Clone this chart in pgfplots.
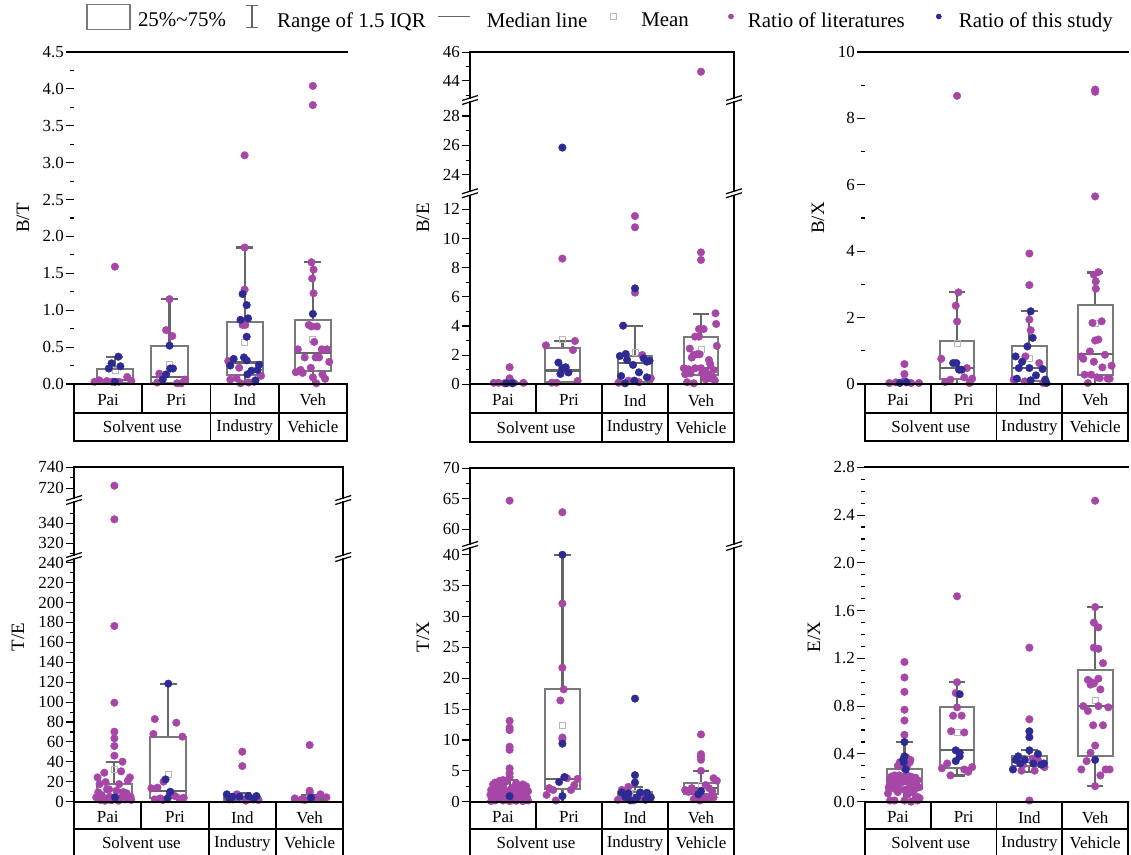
\documentclass[border=0pt]{standalone}
\usepackage{fontspec}
\setmainfont{Liberation Serif}
\usepackage{pgfplots}
\pgfplotsset{compat=1.18}
\usepackage{pgfplotstable}
\usepgfplotslibrary{statistics}

\definecolor{litc}{HTML}{A646A6}
\definecolor{stuc}{HTML}{2E2A94}
\definecolor{boxgray}{HTML}{7A7A7A}
\definecolor{whgray}{HTML}{666666}
\definecolor{meangray}{HTML}{B8B8B8}

% ---------------- B/T ----------------
\pgfplotstableread{
x y
-0.13 0.05
-0.02 0.04
0.10 1.59
0.28 0.095
0.34 0.04
0.16 0.03
0.06 0.03
-0.20 0.03
0.90 1.15
0.85 0.73
0.94 0.65
0.75 0.14
1.13 0.06
0.72 0.02
1.01 0.01
1.07 0.01
2.00 3.10
2.00 1.85
2.00 1.28
1.97 0.80
2.01 0.80
1.76 0.31
1.92 0.22
1.79 0.06
1.88 0.08
2.24 0.11
2.06 0.02
1.94 0.01
2.14 0.03
3.00 4.04
3.00 3.78
2.98 1.65
3.01 1.55
2.99 1.43
3.01 1.23
2.94 0.80
2.98 0.78
3.06 0.78
3.02 0.57
2.78 0.47
3.21 0.47
3.13 0.47
2.88 0.36
3.04 0.36
3.09 0.36
3.24 0.30
2.75 0.16
2.82 0.19
2.85 0.15
2.97 0.22
3.14 0.13
3.18 0.07
3.00 0.09
3.05 0.01
}\BTlit
\pgfplotstableread{
x y
0.05 0.28
0.15 0.37
0.01 0.21
0.18 0.24
0.10 0.03
0.90 0.52
0.91 0.21
0.95 0.21
0.85 0.13
0.80 0.06
1.97 1.22
2.03 1.07
1.94 0.87
2.05 0.89
2.03 0.64
1.99 0.36
1.84 0.34
2.03 0.32
1.79 0.25
2.21 0.26
2.19 0.19
2.10 0.18
2.04 0.13
2.16 0.05
3.00 0.95
}\BTstu

% ---------------- B/E ----------------
\pgfplotstableread{
x y
0.10 1.17
0.10 0.41
-0.14 0.10
-0.07 0.10
0.16 0.10
0.31 0.10
0.02 0.07
0.90 8.62
0.65 2.67
1.09 2.97
1.06 2.35
1.13 0.23
0.74 0.11
0.81 0.11
0.99 0.82
2.00 11.54
2.00 10.77
2.00 6.29
2.11 2.01
2.24 0.41
1.90 0.25
1.75 0.11
2.06 0.14
3.00 44.64
3.00 9.05
3.00 8.53
3.22 4.87
3.23 4.14
2.97 3.79
3.04 3.79
2.91 3.27
2.97 3.27
3.24 2.63
2.83 2.45
2.89 2.01
2.94 2.06
2.98 2.06
2.86 1.83
3.12 1.67
3.14 1.39
2.74 1.10
2.81 1.03
2.91 1.10
3.00 1.10
3.07 0.91
3.19 0.98
2.76 0.69
2.84 0.75
3.02 0.75
3.12 0.64
3.18 0.46
3.21 0.25
2.79 0.14
2.89 0.07
3.07 0.34
3.14 0.41
}\BElit
\pgfplotstableread{
x y
0.05 0.07
0.14 0.07
0.90 25.85
0.84 1.49
0.90 1.10
0.95 1.17
0.87 0.71
0.99 0.82
2.00 6.58
1.82 4.02
1.86 2.08
1.77 1.94
1.88 1.67
1.97 1.33
2.13 1.78
2.18 1.55
2.22 1.62
2.06 0.82
1.79 0.57
2.18 0.48
1.99 0.25
1.85 0.07
}\BEstu

% ---------------- B/X ----------------
\pgfplotstableread{
x y
0.10 0.60
0.10 0.30
0.10 0.10
-0.13 0.03
-0.03 0.05
0.20 0.03
0.32 0.03
0.90 8.68
0.92 2.76
0.88 2.36
0.90 1.88
0.66 0.76
1.05 0.48
0.80 0.13
1.01 0.20
1.13 0.16
0.72 0.06
1.09 0.03
2.00 3.93
2.00 2.98
2.00 1.94
2.02 1.62
1.94 0.83
2.15 0.63
1.76 0.13
1.93 0.08
2.21 0.03
3.00 8.87
3.00 8.80
3.00 5.65
3.05 3.37
2.98 3.29
3.01 3.09
3.01 2.87
2.96 1.84
3.10 1.89
3.00 1.31
3.05 1.34
2.92 0.98
2.79 0.83
2.82 0.76
3.15 0.88
2.98 0.67
3.25 0.55
3.11 0.50
2.84 0.28
2.94 0.28
3.03 0.20
3.07 0.18
3.19 0.16
3.22 0.16
2.89 0.03
}\BXlit
\pgfplotstableread{
x y
0.03 0.03
0.13 0.05
0.84 0.63
0.89 0.63
0.93 0.43
0.97 0.43
2.02 2.19
2.05 1.39
1.97 1.13
1.79 0.83
1.89 0.67
1.84 0.48
2.00 0.48
2.20 0.45
2.10 0.26
1.81 0.16
2.02 0.11
2.24 0.13
2.26 0.03
}\BXstu

% ---------------- T/E ----------------
\pgfplotstableread{
x y
0.10 722.5
0.10 344
0.10 176.4
0.10 99.4
0.10 70.3
0.10 63.6
0.10 55.9
0.10 46.2
0.22 40.2
0.20 30.5
-0.05 29.1
-0.15 24.4
0.33 24.4
-0.03 19.7
0.30 21.1
-0.12 17.7
0.17 17.7
-0.01 12.4
0.02 12.4
-0.14 9.4
0.13 11.0
0.23 9.7
0.28 8.4
-0.09 6.7
-0.17 4.4
0.03 5.0
0.21 5.0
0.34 5.0
-0.11 1.7
0.08 2.3
0.26 2.3
0.35 1.7
-0.04 1.0
0.16 1.0
-0.07 3.0
0.12 3.5
0.30 3.0
0.05 1.5
0.70 83.0
1.02 79.3
0.68 68.0
1.11 65.3
0.65 13.4
0.74 14.1
0.83 20.1
0.92 7.4
0.78 3.3
1.00 5.7
1.06 3.3
1.13 4.0
0.70 2.3
0.82 1.7
2.00 50.2
2.00 35.8
1.92 7.4
2.11 4.4
1.86 2.3
2.24 1.7
2.05 1.0
3.00 56.9
3.00 11.0
3.00 9.0
3.16 7.4
3.25 4.4
2.78 3.3
2.88 2.3
3.10 3.3
2.93 1.7
}\TElit
\pgfplotstableread{
x y
0.11 4.4
0.90 118.5
0.86 22.4
0.93 10.0
0.89 3.3
1.77 7.4
1.85 5.0
1.96 5.0
2.09 5.7
2.21 5.7
1.81 2.3
2.17 2.3
3.02 4.0
}\TEstu

% ---------------- T/X ----------------
\pgfplotstableread{
x y
0.10 64.7
0.10 13.1
0.10 12.0
0.10 11.6
0.10 8.9
0.10 8.4
0.10 5.4
0.10 4.6
0.10 4.0
-0.12 3.1
-0.05 3.4
0.00 3.5
0.05 3.3
-0.15 2.8
0.20 3.0
0.30 2.8
0.35 2.5
0.25 2.2
-0.10 2.4
0.00 2.6
0.15 2.3
-0.18 1.9
-0.08 2.0
0.05 1.8
0.12 2.0
0.30 1.9
0.38 1.7
-0.15 1.5
-0.02 1.4
0.08 1.3
0.22 1.5
0.32 1.3
-0.19 1.1
-0.10 1.0
0.18 1.0
0.28 0.9
0.36 0.8
-0.16 0.6
-0.05 0.5
0.05 0.6
0.15 0.4
0.25 0.5
0.33 0.3
-0.12 0.2
0.00 0.2
0.10 0.1
0.20 0.15
0.30 0.1
-0.18 0.1
0.38 0.2
0.90 62.8
0.90 32.1
0.90 21.7
0.92 18.2
0.87 16.4
0.90 10.4
0.90 10.1
0.66 1.1
0.70 2.2
0.76 1.9
1.03 1.9
1.08 2.7
1.13 3.7
0.80 0.2
0.97 3.8
1.90 2.4
1.80 1.9
2.08 1.1
2.23 0.5
1.85 0.4
1.74 0.3
2.13 0.7
1.98 0.2
3.00 10.9
3.00 7.7
3.00 7.3
3.00 6.8
3.00 5.0
3.19 3.8
3.24 3.4
2.76 1.9
2.81 1.6
2.91 1.5
2.86 2.2
3.12 2.2
3.17 1.7
3.07 2.7
2.94 1.1
3.04 0.8
3.12 0.5
2.89 0.4
2.98 0.2
3.19 0.7
}\TXlit
\pgfplotstableread{
x y
0.10 0.9
0.90 40.0
0.90 9.4
0.85 3.2
0.93 4.0
0.90 0.9
2.00 16.7
2.00 4.3
2.00 3.1
1.80 1.5
1.90 1.35
2.08 1.5
2.18 1.45
1.85 0.8
2.03 0.7
2.16 0.3
1.93 0.2
2.24 0.7
3.00 1.7
2.96 1.2
}\TXstu

% ---------------- E/X ----------------
\pgfplotstableread{
x y
0.10 1.17
0.10 1.04
0.10 0.92
0.10 0.77
0.10 0.68
0.10 0.56
0.13 0.37
0.19 0.35
0.03 0.33
0.07 0.31
0.14 0.30
0.18 0.33
0.00 0.30
0.10 0.28
-0.10 0.21
-0.05 0.22
0.02 0.22
0.08 0.21
0.14 0.22
0.20 0.21
0.27 0.20
0.30 0.18
-0.12 0.18
-0.03 0.17
0.05 0.16
0.12 0.17
0.22 0.15
0.28 0.14
-0.08 0.14
0.00 0.13
-0.14 0.12
-0.06 0.11
0.10 0.10
0.18 0.12
0.25 0.10
0.32 0.12
-0.15 0.07
0.00 0.08
0.15 0.06
0.22 0.08
0.30 0.04
0.27 0.03
0.33 0.03
-0.12 0.01
-0.05 0.01
0.10 0.01
0.20 0.00
0.30 0.01
0.90 1.72
0.90 1.00
0.88 0.91
0.90 0.79
0.84 0.72
0.97 0.72
0.81 0.59
1.01 0.58
0.75 0.32
0.67 0.28
0.80 0.22
1.13 0.29
1.01 0.27
1.07 0.25
2.00 1.29
2.00 0.69
2.00 0.01
1.88 0.26
2.08 0.26
2.23 0.29
2.05 0.36
1.90 0.31
2.13 0.35
3.00 2.52
3.00 1.63
2.98 1.50
3.05 1.46
2.98 1.29
3.05 1.28
3.12 1.16
2.89 1.02
3.05 1.03
2.94 1.00
2.98 0.99
2.93 0.98
3.08 0.94
2.82 0.80
3.05 0.80
3.20 0.79
2.89 0.76
2.97 0.64
3.12 0.64
3.00 0.47
2.93 0.41
2.87 0.34
2.79 0.27
3.08 0.22
3.16 0.27
3.22 0.27
3.00 0.13
}\EXlit
\pgfplotstableread{
x y
0.10 0.50
0.10 0.38
0.09 0.33
0.12 0.27
0.08 0.35
0.94 0.90
0.88 0.43
0.94 0.41
0.94 0.38
0.88 0.34
2.00 0.59
2.00 0.54
2.00 0.43
2.13 0.40
1.83 0.38
1.79 0.35
1.75 0.27
1.93 0.35
2.18 0.31
2.22 0.32
1.86 0.32
2.06 0.32
3.00 0.35
}\EXstu

\newcommand{\fs}{\fontsize{17}{20}\selectfont}

\pgfplotsset{
  seg/.style={scale only axis, anchor=south west, axis line style={draw=none},
    xmin=-0.5, xmax=3.5, xtick=\empty, ytick pos=left, tick align=outside,
    clip=false, major tick length=8bp, minor tick length=4bp,
    tick style={black, line width=1.1bp},
    yticklabel style={font=\fs, inner sep=2bp},
    /pgf/number format/assume math mode=true},
  bottomseg/.style={xtick={0,1,2,3}, xticklabels={Pai,Pri,Ind,Veh},
    xtick style={draw=none},
    xticklabel style={font=\fs, yshift=1.5bp}},
  onedec/.style={yticklabel style={/pgf/number format/.cd, fixed, fixed zerofill, precision=1}},
  lit/.style={only marks, mark=*, mark size=3.8bp, mark options={draw=litc, fill=litc}},
  stu/.style={only marks, mark=*, mark size=3.8bp, mark options={draw=stuc, fill=stuc}},
  bx/.style={draw=boxgray, line width=2bp, solid},
  boxplot/every box/.style={draw=boxgray, line width=2bp, solid},
  boxplot/every median/.style={draw=whgray, line width=2.2bp, solid},
  boxplot/every whisker/.style={draw=whgray, line width=2.2bp, solid},
  mn/.style={only marks, mark=square, mark size=3bp, mark options={draw=meangray, line width=0.8bp}},
}

\newcommand{\bp}[6]{\addplot[bx, boxplot prepared={draw direction=y, draw position=#1, lower whisker=#2, lower quartile=#3, median=#4, upper quartile=#5, upper whisker=#6, box extend=0.53, whisker extend=0.25}] coordinates {};}

\tikzset{axl/.style={black, line width=1.8bp, line cap=rect},
         brkl/.style={black, line width=1.2bp}}
\newcommand{\brk}[2]{\draw[brkl] ({#1-8},{#2-4.5}) -- ({#1+8},{#2+0.5}); \draw[brkl] ({#1-8},{#2-0.5}) -- ({#1+8},{#2+4.5});}
\newcommand{\cattab}[4]{%
  \pgfmathsetmacro{\W}{(#2-#1)/4}%
  \draw[axl] (#1,#3) -- (#2,#3);
  \draw[axl] (#1,{#3-#4}) -- (#2,{#3-#4});
  \draw[axl] (#1,{#3-2*#4}) -- (#2,{#3-2*#4});
  \draw[axl] (#1,#3) -- (#1,{#3-2*#4});
  \draw[axl] (#2,#3) -- (#2,{#3-2*#4});
  \draw[axl] ({#1+\W},#3) -- ({#1+\W},{#3-#4});
  \draw[axl] ({#1+2*\W},#3) -- ({#1+2*\W},{#3-2*#4});
  \draw[axl] ({#1+3*\W},#3) -- ({#1+3*\W},{#3-2*#4});
  \node[font=\fs] at ({#1+\W},{#3-1.5*#4}) {Solvent use};
  \node[font=\fs] at ({#1+2.5*\W},{#3-1.5*#4}) {Industry};
  \node[font=\fs] at ({#1+3.5*\W},{#3-1.5*#4}) {Vehicle};
}

\begin{document}
\begin{tikzpicture}
\useasboundingbox (0bp,0bp) rectangle (1131bp,855bp);

% ===== Panel B/T =====
\begin{axis}[seg, bottomseg, onedec, at={(74bp,471bp)}, width=273bp, height=332bp,
  ymin=0, ymax=4.5, ytick={0,0.5,1,1.5,2,2.5,3,3.5,4,4.5}, minor y tick num=1]
\bp{0.1}{0}{0.02}{0.05}{0.21}{0.37}
\bp{0.9}{0}{0.01}{0.10}{0.52}{1.15}
\bp{2}{0}{0.12}{0.29}{0.84}{1.85}
\bp{3}{0}{0.18}{0.42}{0.87}{1.65}
\addplot[mn] coordinates {(0.1,0.18) (0.9,0.26) (2,0.56) (3,0.60)};
\addplot[lit] table {\BTlit};
\addplot[stu] table {\BTstu};
\end{axis}

% ===== Panel B/E =====
\begin{axis}[seg, bottomseg, at={(470bp,470.7bp)}, width=264bp, height=188.8bp,
  ymin=0, ymax=12.95, ytick={0,2,4,6,8,10,12}, minor y tick num=1, restrict y to domain=0:12.95]
\bp{0.1}{0}{0.03}{0.07}{0.12}{0.16}
\bp{0.9}{0}{0.14}{0.94}{2.51}{2.97}
\bp{2}{0}{0.18}{1.44}{1.97}{4.02}
\bp{3}{0}{0.64}{1.10}{3.27}{4.82}
\addplot[mn] coordinates {(0.1,0.14) (0.9,3.1) (2,2.19) (3,2.4)};
\addplot[lit] table {\BElit};
\addplot[stu] table {\BEstu};
\end{axis}
\begin{axis}[seg, at={(470bp,664bp)}, width=264bp, height=89bp,
  ymin=22.9, ymax=28.95, ytick={24,26,28}, minor y tick num=1, restrict y to domain=22.9:28.95]
\addplot[lit] table {\BElit};
\addplot[stu] table {\BEstu};
\end{axis}
\begin{axis}[seg, at={(470bp,757bp)}, width=264bp, height=45.7bp,
  ymin=42.8, ymax=46, ytick={44,46}, minor ytick={43,45}, restrict y to domain=42.8:46]
\addplot[lit] table {\BElit};
\addplot[stu] table {\BEstu};
\end{axis}

% ===== Panel B/X =====
\begin{axis}[seg, bottomseg, at={(865bp,471bp)}, width=263bp, height=332bp,
  ymin=0, ymax=10, ytick={0,2,4,6,8,10}, minor y tick num=1]
\bp{0.1}{0}{0.01}{0.02}{0.04}{0.07}
\bp{0.9}{0}{0.16}{0.47}{1.31}{2.76}
\bp{2}{0}{0.08}{0.47}{1.13}{2.19}
\bp{3}{0}{0.28}{0.90}{2.38}{3.36}
\addplot[mn] coordinates {(0.1,0.08) (0.9,1.21) (2,0.76) (3,1.82)};
\addplot[lit] table {\BXlit};
\addplot[stu] table {\BXstu};
\end{axis}

% ===== Panel T/E =====
\begin{axis}[seg, bottomseg, at={(74bp,53.3bp)}, width=269.3bp, height=242.7bp,
  ymin=0, ymax=243.7, ytick={0,20,...,240}, minor y tick num=1, restrict y to domain=0:243.7]
\bp{0.1}{0}{2.3}{6.0}{17.7}{40.2}
\bp{0.9}{0}{3.3}{11.0}{65.3}{118.5}
\bp{2}{0.5}{1.7}{3.3}{5.0}{8.4}
\bp{3}{0.5}{1.7}{2.3}{4.0}{6.7}
\addplot[mn] coordinates {(0.1,32.5) (0.9,27.4) (2,4.5) (3,4.5)};
\addplot[lit] table {\TElit};
\addplot[stu] table {\TEstu};
\end{axis}
\begin{axis}[seg, at={(74bp,300bp)}, width=269.3bp, height=53bp,
  ymin=308.3, ymax=361.3, ytick={320,340}, minor ytick={310,330,350}, restrict y to domain=308.3:361.3]
\addplot[lit] table {\TElit};
\addplot[stu] table {\TEstu};
\end{axis}
\begin{axis}[seg, at={(74bp,357bp)}, width=269.3bp, height=30.7bp,
  ymin=710.8, ymax=740, ytick={720,740}, minor ytick={730}, restrict y to domain=710.8:740]
\addplot[lit] table {\TElit};
\addplot[stu] table {\TEstu};
\end{axis}

% ===== Panel T/X =====
\begin{axis}[seg, bottomseg, at={(470bp,53.3bp)}, width=264bp, height=253.7bp,
  ymin=0, ymax=41.1, ytick={0,5,...,40}, minor y tick num=1, restrict y to domain=0:41.1]
\bp{0.1}{0}{0.5}{0.9}{2.2}{3.5}
\bp{0.9}{0}{2.0}{3.7}{18.2}{40.0}
\bp{2}{0.1}{0.9}{1.15}{1.5}{2.4}
\bp{3}{0.2}{1.3}{2.2}{3.0}{5.0}
\addplot[mn] coordinates {(0.1,1.9) (0.9,12.4) (2,1.4) (3,2.6)};
\addplot[lit] table {\TXlit};
\addplot[stu] table {\TXstu};
\end{axis}
\begin{axis}[seg, at={(470bp,311bp)}, width=264bp, height=75.7bp,
  ymin=57.6, ymax=70, ytick={60,65,70}, minor y tick num=1, restrict y to domain=57.6:70]
\addplot[lit] table {\TXlit};
\addplot[stu] table {\TXstu};
\end{axis}

% ===== Panel E/X =====
\begin{axis}[seg, bottomseg, onedec, at={(865bp,53.3bp)}, width=263bp, height=334.4bp,
  ymin=0, ymax=2.8, ytick={0,0.4,0.8,1.2,1.6,2.0,2.4,2.8}, minor y tick num=3]
\bp{0.1}{0}{0.11}{0.18}{0.27}{0.50}
\bp{0.9}{0.22}{0.285}{0.43}{0.79}{1.00}
\bp{2}{0.25}{0.30}{0.33}{0.38}{0.43}
\bp{3}{0.13}{0.38}{0.80}{1.10}{1.63}
\addplot[mn] coordinates {(0.1,0.20) (0.9,0.58) (2,0.36) (3,0.85)};
\addplot[lit] table {\EXlit};
\addplot[stu] table {\EXstu};
\end{axis}

% ===== Legend =====
\begin{axis}[at={(0bp,0bp)}, anchor=south west, scale only axis, width=1131bp, height=855bp,
  xmin=0, xmax=1, ymin=0, ymax=1, hide axis,
  legend columns=6, legend cell align=left,
  legend style={at={(0.5300,0.9801)}, anchor=center, draw=none, fill=none,
    font=\fontsize{21}{24}\selectfont, inner sep=0pt,
    /tikz/every node/.append style={inner sep=0pt}}]
\addlegendimage{legend image code/.code={\path[draw=none,fill=none] (0bp,0bp) -- (52bp,0bp); \draw[boxgray, line width=1.5bp] (0.75bp,-9bp) rectangle (44bp,16bp);}}
\addlegendentry{25\%\textasciitilde 75\%}
\addlegendimage{legend image code/.code={\path[draw=none,fill=none] (0bp,0bp) -- (51bp,0bp); \draw[whgray, line width=1.5bp] (26bp,-7bp) -- (26bp,15bp) (20bp,15bp) -- (32bp,15bp) (20bp,-7bp) -- (32bp,-7bp);}}
\addlegendentry{Range of 1.5 IQR}
\addlegendimage{legend image code/.code={\path[draw=none,fill=none] (0bp,0bp) -- (61bp,0bp); \draw[whgray, line width=1.5bp] (12bp,4bp) -- (44bp,4bp);}}
\addlegendentry{Median line}
\addlegendimage{legend image code/.code={\path[draw=none,fill=none] (0bp,0bp) -- (54bp,0bp); \draw[meangray, line width=0.8bp] (23bp,1bp) rectangle (29bp,7bp);}}
\addlegendentry{Mean}
\addlegendimage{legend image code/.code={\path[draw=none,fill=none] (0bp,0bp) -- (59bp,0bp); \fill[litc] (42bp,4bp) circle (2.6bp);}}
\addlegendentry{Ratio of literatures}
\addlegendimage{legend image code/.code={\path[draw=none,fill=none] (0bp,0bp) -- (54bp,0bp); \fill[stuc] (34bp,4bp) circle (2.6bp);}}
\addlegendentry{Ratio of this study}
\end{axis}

\begin{scope}[x=1bp,y=1bp]
% frames B/T
\draw[axl] (74,803) -- (347,803);
\cattab{74}{347}{471}{28.7}
\node[rotate=90, font=\fontsize{19}{22}\selectfont] at (23,637) {B/T};
% frames B/E
\foreach \xx in {470,734}{
  \draw[axl] (\xx,470.7) -- (\xx,659.5);
  \draw[axl] (\xx,664) -- (\xx,753);
  \draw[axl] (\xx,757) -- (\xx,802.7);
  \brk{\xx}{661.75}
  \brk{\xx}{755}
}
\draw[axl] (470,802.7) -- (734,802.7);
\cattab{470}{734}{470.7}{28.7}
\node[rotate=90, font=\fontsize{19}{22}\selectfont] at (423,637) {B/E};
% frames B/X
\draw[axl] (865,803) -- (1128,803);
\cattab{865}{1128}{471}{28.7}
\node[rotate=90, font=\fontsize{19}{22}\selectfont] at (818,637) {B/X};
% frames T/E
\foreach \xx in {74,343.3}{
  \draw[axl] (\xx,53.3) -- (\xx,296);
  \draw[axl] (\xx,300) -- (\xx,353);
  \draw[axl] (\xx,357) -- (\xx,387.7);
  \brk{\xx}{298}
  \brk{\xx}{355}
}
\draw[axl] (74,387.7) -- (343.3,387.7);
\cattab{74}{343.3}{53.3}{27.6}
\node[rotate=90, font=\fontsize{19}{22}\selectfont] at (18,218) {T/E};
% frames T/X
\foreach \xx in {470,734}{
  \draw[axl] (\xx,53.3) -- (\xx,307);
  \draw[axl] (\xx,311) -- (\xx,386.7);
  \brk{\xx}{309}
}
\draw[axl] (470,386.7) -- (734,386.7);
\cattab{470}{734}{53.3}{27.6}
\node[rotate=90, font=\fontsize{19}{22}\selectfont] at (423,218) {T/X};
% frames E/X
\draw[axl] (865,387.7) -- (1128,387.7);
\cattab{865}{1128}{53.3}{27.6}
\node[rotate=90, font=\fontsize{19}{22}\selectfont] at (814,218) {E/X};
\end{scope}
\end{tikzpicture}
\end{document}
